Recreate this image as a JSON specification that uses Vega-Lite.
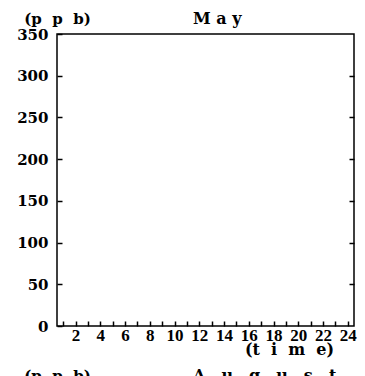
{
  "$schema": "https://vega.github.io/schema/vega-lite/v6.json",
  "padding": {"left": 15, "top": 10, "right": 5, "bottom": 0},
  "spacing": 9,
  "config": {
    "font": "DejaVu Serif",
    "view": {"stroke": "black", "strokeWidth": 1.5},
    "axis": {"domain": false, "grid": false, "tickColor": "black", "tickWidth": 1.5, "labelColor": "black", "titleColor": "black", "labelFont": "DejaVu Serif", "labelFontWeight": "bold", "titleFont": "DejaVu Serif", "titleFontWeight": "bold"},
    "title": {"font": "DejaVu Serif", "fontSize": 16, "fontWeight": "bold", "color": "black", "anchor": "start", "frame": "group", "dx": 136, "offset": -16}
  },
  "datasets": {
    "may": [
      {"time": 1, "ppb": null}, {"time": 2, "ppb": null}, {"time": 3, "ppb": null}, {"time": 4, "ppb": null},
      {"time": 5, "ppb": null}, {"time": 6, "ppb": null}, {"time": 7, "ppb": null}, {"time": 8, "ppb": null},
      {"time": 9, "ppb": null}, {"time": 10, "ppb": null}, {"time": 11, "ppb": null}, {"time": 12, "ppb": null},
      {"time": 13, "ppb": null}, {"time": 14, "ppb": null}, {"time": 15, "ppb": null}, {"time": 16, "ppb": null},
      {"time": 17, "ppb": null}, {"time": 18, "ppb": null}, {"time": 19, "ppb": null}, {"time": 20, "ppb": null},
      {"time": 21, "ppb": null}, {"time": 22, "ppb": null}, {"time": 23, "ppb": null}, {"time": 24, "ppb": null}
    ]
  },
  "vconcat": [
    {
      "title": {"text": "M a y"},
      "width": 297,
      "height": 292,
      "data": {"name": "may"},
      "layer": [
        {
          "mark": {"type": "line", "color": "black"},
          "encoding": {
            "x": {"field": "time", "type": "quantitative", "scale": {"domain": [0.5, 24.5], "nice": false, "zero": false},
              "axis": {"values": [1,2,3,4,5,6,7,8,9,10,11,12,13,14,15,16,17,18,19,20,21,22,23,24],
                "labelExpr": "datum.value % 2 == 0 ? datum.label : ''", "labelOverlap": false, "tickSize": -5, "labelPadding": 6,
                "labelFont": "Liberation Serif", "labelFontSize": 17, "labelBaseline": "top", "title": "(t\u2007i\u2007m\u2007e)", "titleFontSize": 16,
                "titleX": 232, "titleY": 23, "titleAnchor": null, "titleAlign": "center", "titleBaseline": "middle"}},
            "y": {"field": "ppb", "type": "quantitative", "scale": {"domain": [0, 350], "nice": false},
              "axis": {"values": [0,50,100,150,200,250,300,350], "tickSize": -5, "labelPadding": 14, "labelFontSize": 15,
                "title": "(p\u2007p\u2007b)", "titleAngle": 0, "titleFontSize": 15, "titleX": 0, "titleY": -16, "titleAlign": "center", "titleBaseline": "middle", "titleAnchor": null}}
          }
        },
        {
          "mark": {"type": "rule", "color": "black"},
          "encoding": {
            "y": {"field": "ppb", "type": "quantitative",
              "axis": {"orient": "right", "values": [50,100,150,200,250,300], "tickSize": -5, "labels": false, "title": null}}
          }
        }
      ],
      "resolve": {"axis": {"y": "independent"}}
    },
    {
      "title": {"text": "A\u2003u\u2003g\u2003u\u2003s\u2003t"},
      "width": 297,
      "height": 292,
      "data": {"name": "may"},
      "mark": {"type": "line", "color": "black"},
      "encoding": {
        "x": {"field": "time", "type": "quantitative", "scale": {"domain": [0.5, 24.5], "nice": false, "zero": false}},
        "y": {"field": "ppb", "type": "quantitative", "scale": {"domain": [0, 350], "nice": false},
          "axis": {"values": [0,50,100,150,200,250,300,350], "tickSize": -5, "labelPadding": 14, "labelFontSize": 15,
            "title": "(p\u2007p\u2007b)", "titleAngle": 0, "titleFontSize": 15, "titleX": 0, "titleY": -16, "titleAlign": "center", "titleBaseline": "middle", "titleAnchor": null}}
      }
    }
  ]
}
